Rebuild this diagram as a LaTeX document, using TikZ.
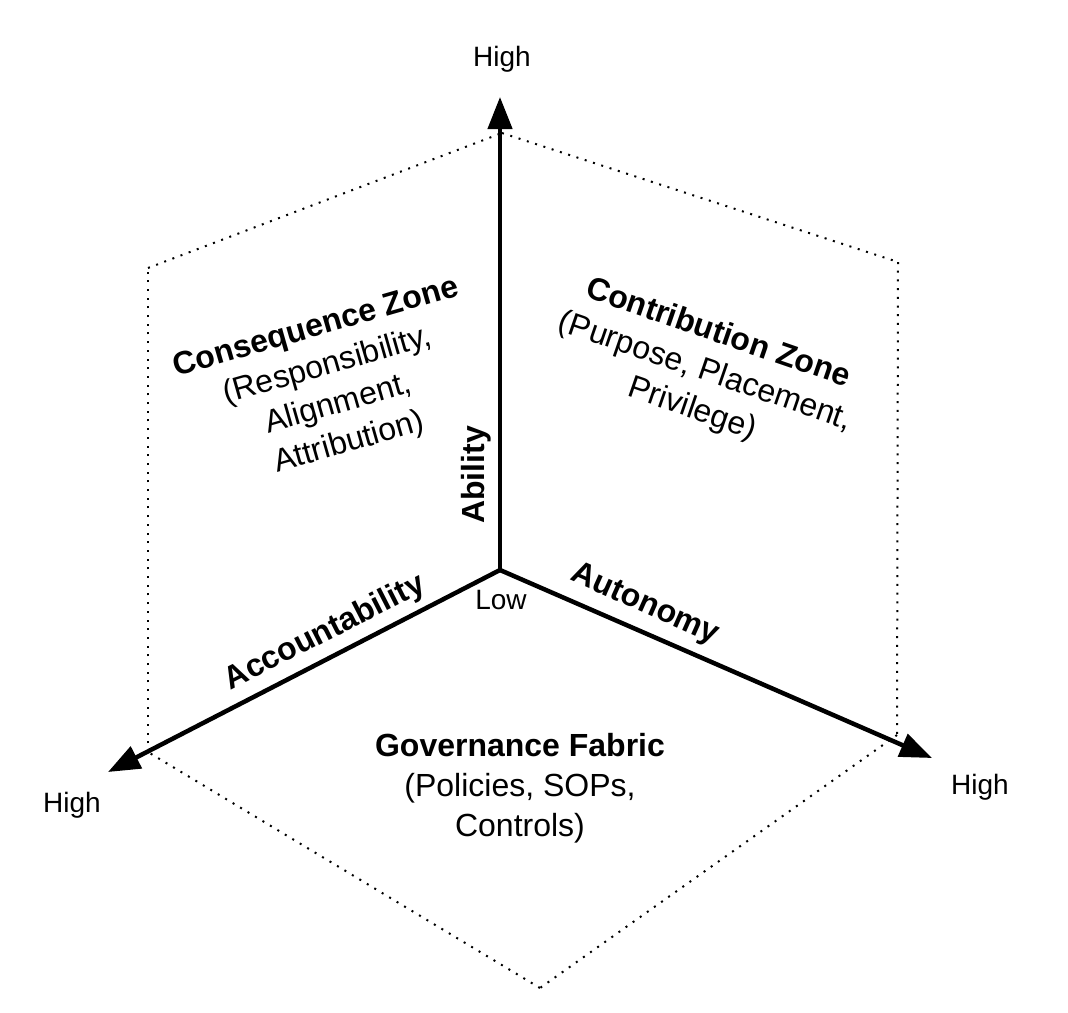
\documentclass[tikz,border=0pt]{standalone}
\usepackage{fontspec}
\setmainfont{Liberation Sans}
\usetikzlibrary{arrows.meta}
\tikzset{
  axis/.style={line width=4.5pt, -{Triangle[length=32pt,width=24pt]}},
  rim/.style={line width=2pt, dash pattern=on 2pt off 6.7pt},
  zone/.style={align=center, font=\fontsize{32}{40}\selectfont, inner sep=0pt},
  tag/.style={font=\fontsize{28}{32}\selectfont, inner sep=0pt},
  axlabel/.style={font=\bfseries\fontsize{32}{36}\selectfont, inner sep=0pt}
}

\begin{document}
\begin{tikzpicture}[x=1pt,y=-1pt]
  \useasboundingbox (0,0) rectangle (1068,1012);
  \coordinate (o) at (500,570);
  \coordinate (up) at (500,97);
  \coordinate (lt) at (108,772);
  \coordinate (rt) at (932,758);
  \coordinate (h0) at (502,133);
  \coordinate (h1) at (898,262);
  \coordinate (h2) at (897,735);
  \coordinate (h3) at (540,988);
  \coordinate (h4) at (148,752);
  \coordinate (h5) at (148,268);
  \foreach \x/\y in {h0/h1,h1/h2,h2/h3,h3/h4,h4/h5,h5/h0} \draw[rim] (\x) -- (\y);
  \foreach \x in {up,lt,rt} \draw[axis] (o) -- (\x);
  \node[tag] at (502,59) (hup) {High};
  \node[tag] at (72,805) (hlt) {High};
  \node[tag] at (980,787) (hrt) {High};
  \node[tag] at (501,600) (low) {Low};
  \node[axlabel, rotate=90] at (476,475) (abil) {Ability};
  \node[axlabel, rotate=27] at (325,633) (acct) {Accountability};
  \node[axlabel, rotate=-24] at (645,605) (auto) {Autonomy};
  \node[zone, rotate=16] at (333,386) (cons) {\textbf{Consequence Zone}\\(Responsibility,\\Alignment,\\Attribution)};
  \node[zone, rotate=-19] at (705,372) (cont) {\textbf{Contribution Zone}\\(Purpose, Placement,\\Privilege)};
  \node[zone] at (520,788) (gov) {\textbf{Governance Fabric}\\(Policies, SOPs,\\Controls)};
\end{tikzpicture}
\end{document}
